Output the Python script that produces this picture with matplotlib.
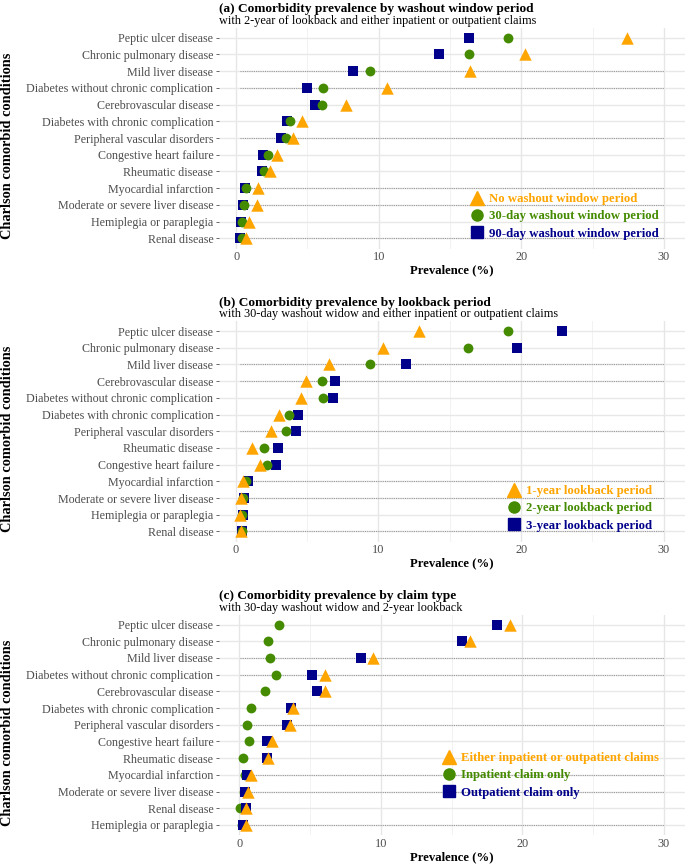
import matplotlib
matplotlib.use("Agg")
import matplotlib.pyplot as plt
from matplotlib.lines import Line2D

plt.rcParams['font.family'] = ['Liberation Serif', 'DejaVu Serif']

# ---------------- data ----------------
# Panel (a): washout window
cond_a = ["Peptic ulcer disease", "Chronic pulmonary disease", "Mild liver disease",
          "Diabetes without chronic complication", "Cerebrovascular disease",
          "Diabetes with chronic complication", "Peripheral vascular disorders",
          "Congestive heart failure", "Rheumatic disease", "Myocardial infarction",
          "Moderate or severe liver disease", "Hemiplegia or paraplegia", "Renal disease"]
a_none = [27.4, 20.25, 16.4, 10.6, 7.7, 4.65, 4.0, 2.87, 2.35, 1.5, 1.45, 0.9, 0.7]
a_30 = [19.1, 16.3, 9.4, 6.1, 6.05, 3.75, 3.5, 2.23, 1.93, 0.7, 0.55, 0.4, 0.4]
a_90 = [16.3, 14.25, 8.2, 5.0, 5.5, 3.55, 3.15, 1.88, 1.8, 0.6, 0.45, 0.33, 0.28]
labels_a = ["No washout window period", "30-day washout window period", "90-day washout window period"]

# Panel (b): lookback period
cond_b = ["Peptic ulcer disease", "Chronic pulmonary disease", "Mild liver disease",
          "Cerebrovascular disease", "Diabetes without chronic complication",
          "Diabetes with chronic complication", "Peripheral vascular disorders",
          "Rheumatic disease", "Congestive heart failure", "Myocardial infarction",
          "Moderate or severe liver disease", "Hemiplegia or paraplegia", "Renal disease"]
b_1y = [12.85, 10.3, 6.55, 4.9, 4.55, 3.05, 2.45, 1.17, 1.73, 0.52, 0.4, 0.32, 0.4]
b_2y = [19.1, 16.3, 9.4, 6.05, 6.1, 3.75, 3.55, 1.97, 2.23, 0.75, 0.52, 0.46, 0.44]
b_3y = [22.9, 19.7, 11.95, 6.95, 6.85, 4.35, 4.25, 2.98, 2.84, 0.87, 0.6, 0.52, 0.46]
labels_b = ["1-year lookback period", "2-year lookback period", "3-year lookback period"]

# Panel (c): claim type
cond_c = ["Peptic ulcer disease", "Chronic pulmonary disease", "Mild liver disease",
          "Diabetes without chronic complication", "Cerebrovascular disease",
          "Diabetes with chronic complication", "Peripheral vascular disorders",
          "Congestive heart failure", "Rheumatic disease", "Myocardial infarction",
          "Moderate or severe liver disease", "Renal disease", "Hemiplegia or paraplegia"]
c_either = [19.1, 16.3, 9.43, 6.08, 6.08, 3.8, 3.58, 2.28, 2.02, 0.79, 0.57, 0.46, 0.45]
c_in = [2.8, 2.0, 2.18, 2.55, 1.83, 0.8, 0.52, 0.69, 0.24, 0.36, 0.29, 0.05, 0.17]
c_out = [18.2, 15.75, 8.62, 5.13, 5.5, 3.63, 3.33, 1.95, 1.95, 0.5, 0.41, 0.43, 0.25]
labels_c = ["Either inpatient or outpatient claims", "Inpatient claim only", "Outpatient claim only"]

titles = ["(a) Comorbidity prevalence by washout window period",
          "(b) Comorbidity prevalence by lookback period",
          "(c) Comorbidity prevalence by claim type"]
subtitles = ["with 2-year of lookback and either inpatient or outpatient claims",
             "with 30-day washout widow and either inpatient or outpatient claims",
             "with 30-day washout widow and 2-year lookback"]
xticks = [0, 10, 20, 30]
seg_end = 30

ORANGE = "#FFA500"
GREEN = "#458B00"
BLUE = "#00008B"

W, H = 685, 864
fig = plt.figure(figsize=(W / 100, H / 100), dpi=100)

def px_axes(left, top, right, bottom):
    return fig.add_axes([left / W, 1 - bottom / H, (right - left) / W, (bottom - top) / H])

panels = [
    (cond_a, a_none, a_30, a_90, labels_a, ["sq", "ci", "tr"], (219, 27.5, 685, 248.5), (471, 193)),
    (cond_b, b_1y, b_2y, b_3y, labels_b, ["sq", "ci", "tr"], (219, 321, 685, 541.5), (508, 485)),
    (cond_c, c_either, c_in, c_out, labels_c, ["ci", "sq", "tr"], (219, 614.5, 685, 835), (443, 752)),
]
dotted_rows = [2, 3, 6, 9, 10, 12]

for pi, (conds, tri, cir, sq, labs, order, box, leg) in enumerate(panels):
    ax = px_axes(*box)
    hpx = box[3] - box[1]
    n = len(conds)
    ypos = list(range(n))
    allv = tri + cir + sq
    lo = min(allv)
    hi = seg_end
    pad = 0.05 * (hi - lo)
    ax.set_xlim(lo - pad, hi + pad)
    ax.set_ylim(n - 1 + 0.6, -0.6)

    # grid
    for xv in [5, 15, 25]:
        ax.axvline(xv, color="#F2F2F2", lw=0.7, zorder=0)
    for xv in xticks:
        ax.axvline(xv, color="#E6E6E6", lw=1.0, zorder=0)
    for yv in ypos:
        ax.axhline(yv, color="#E8E8E8", lw=1.0, zorder=0)
    for r in dotted_rows:
        ax.plot([lo, hi], [r, r], color="#9A9A9A", lw=0.8, ls=(0, (1, 1)), zorder=1)

    styles = {
        "tr": (tri, "^", ORANGE, 80),
        "ci": (cir, "o", GREEN, 50),
        "sq": (sq, "s", BLUE, 50),
    }
    for z, key in enumerate(order):
        vals, mk, col, s = styles[key]
        ax.scatter(vals, ypos, marker=mk, color=col, s=s, linewidths=0, zorder=3 + z)

    ax.set_yticks(ypos)
    ax.set_yticklabels(conds, fontsize=8.65, color="#4D4D4D")
    ax.set_xticks(xticks)
    ax.set_xticklabels([str(t) for t in xticks], fontsize=8.8, color="#4D4D4D")
    ax.tick_params(axis="y", length=2.5, width=0.6, color="#4D4D4D", pad=1.5)
    ax.tick_params(axis="x", length=0, pad=2)
    for sp in ax.spines.values():
        sp.set_visible(False)
    ax.set_xlabel("Prevalence (%)", fontsize=9.2, fontweight="bold", labelpad=1)
    ax.set_ylabel("Charlson comorbid conditions", fontsize=10.4, fontweight="bold")
    ax.yaxis.label.set_va("center")
    ax.yaxis.label.set_ha("center")
    ax.yaxis.set_label_coords((8 - box[0]) / (box[2] - box[0]), 0.5 - 8 / hpx)

    ax.text(0.0, 1.0 + 15.5 / hpx, titles[pi], transform=ax.transAxes,
            fontsize=9.6, fontweight="bold", ha="left", va="baseline")
    ax.text(0.0, 1.0 + 3.8 / hpx, subtitles[pi], transform=ax.transAxes,
            fontsize=8.8, ha="left", va="baseline")

    # legend
    handles = [
        Line2D([], [], marker="^", color=ORANGE, ls="none", markersize=10),
        Line2D([], [], marker="o", color=GREEN, ls="none", markersize=8),
        Line2D([], [], marker="s", color=BLUE, ls="none", markersize=8),
    ]
    lx = (leg[0] - box[0]) / (box[2] - box[0])
    ly = 1 - (leg[1] - box[1]) / hpx
    ax.legend(handles, labs, loc="upper left", bbox_to_anchor=(lx, ly), frameon=False,
              prop={"weight": "bold", "size": 9.2}, handlelength=0.9, handletextpad=0.5,
              labelspacing=0.42, borderpad=0, borderaxespad=0,
              labelcolor=[ORANGE, GREEN, BLUE])

fig.savefig("out.png", dpi=100)
